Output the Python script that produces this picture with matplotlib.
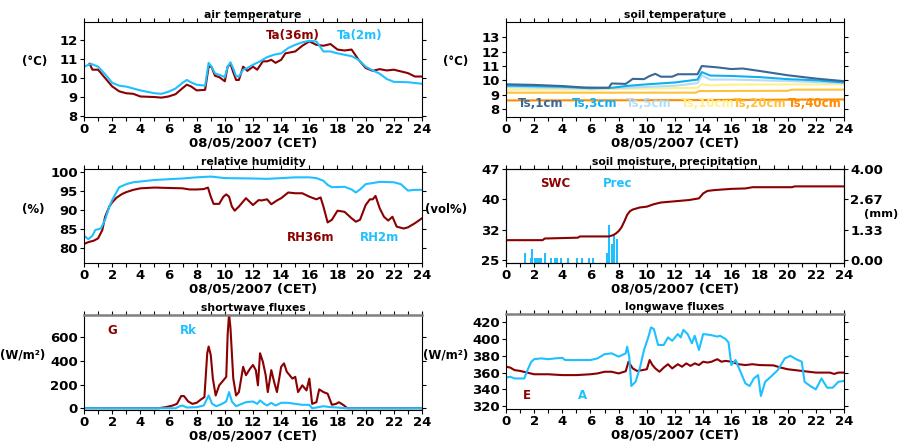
import matplotlib.pyplot as plt

W, H = 900, 447
DARK_RED = "#8b0000"
CYAN = "#1ec0ff"
XLABEL = "08/05/2007 (CET)"

# air temperature (degC)
ta36_t = [0.4, 0.6, 1, 1.5, 2, 2.5, 3, 3.5, 4, 5, 5.5, 6, 6.5, 7, 7.3, 7.6, 8, 8.6, 8.85, 9.05,
          9.3, 9.6, 10, 10.2, 10.4, 10.6, 10.8, 11, 11.3, 11.6, 12, 12.3, 12.7, 13, 13.3, 13.6, 14, 14.3, 15, 15.5,
          16, 16.5, 17, 17.5, 18, 18.5, 19, 19.5, 20, 20.5, 21, 21.5, 22, 23, 23.5, 24]
ta36 = [10.75, 10.44, 10.44, 10.0, 9.56, 9.3, 9.2, 9.17, 9.03, 9.0, 8.97, 9.03, 9.15, 9.47, 9.65, 9.56, 9.35, 9.38, 10.6, 10.6,
        10.12, 10.05, 9.83, 10.6, 10.75, 10.3, 9.9, 9.9, 10.6, 10.38, 10.6, 10.44, 10.88, 10.88, 10.96, 10.8, 10.96, 11.3, 11.4, 11.7,
        11.93, 11.75, 11.7, 11.79, 11.5, 11.45, 11.5, 10.96, 10.53, 10.38, 10.47, 10.4, 10.44, 10.26, 10.08, 10.08]
ta2_t = [0, 0.5, 1, 1.5, 2, 2.5, 3, 4, 5, 5.5, 6, 6.5, 7, 7.3, 7.6, 8, 8.6, 8.85, 9.05,
         9.3, 9.6, 10, 10.2, 10.4, 10.6, 10.8, 11, 11.3, 11.6, 12, 12.5, 13, 13.5, 14,
         14.5, 15, 15.5, 16, 16.5, 17, 17.5, 18, 19, 19.5, 20, 20.5, 21, 21.5, 22, 23, 24]
ta2 = [10.6, 10.75, 10.6, 10.2, 9.75, 9.6, 9.55, 9.35, 9.2, 9.17, 9.28, 9.45, 9.75, 9.9, 9.77, 9.65, 9.6, 10.8, 10.6,
       10.25, 10.17, 10.05, 10.6, 10.83, 10.5, 10.1, 10.08, 10.44, 10.53, 10.7, 10.88, 11.1, 11.23, 11.3,
       11.58, 11.75, 11.88, 11.96, 11.93, 11.4, 11.4, 11.3, 11.15, 10.96, 10.6, 10.4, 10.23, 9.95, 9.8, 9.78, 9.7]

# soil temperature (degC)
ts1_t = [0, 2, 4, 5.5, 7.3, 7.5, 8.5, 9, 9.8, 10.2, 10.6, 11, 11.8, 12.2, 13.6, 13.9, 15, 16, 16.8, 18, 20, 22, 24]
ts1 = [9.72, 9.68, 9.6, 9.5, 9.48, 9.78, 9.75, 10.1, 10.08, 10.3, 10.45, 10.25, 10.25, 10.42, 10.42, 10.99,
       10.9, 10.78, 10.82, 10.65, 10.35, 10.12, 9.94]
ts3_t = [0, 4, 6, 7.5, 8.5, 10, 12, 13.6, 13.9, 14.5, 16, 18, 20, 22, 24]
ts3 = [9.63, 9.55, 9.45, 9.48, 9.6, 9.72, 9.85, 10.05, 10.57, 10.33, 10.3, 10.22, 10.08, 10.0, 9.85]
ts5_t = [0, 6, 8, 12, 13.6, 13.9, 14.5, 16, 20, 24]
ts5 = [9.53, 9.42, 9.46, 9.62, 9.8, 10.34, 10.05, 10.05, 9.95, 9.8]
ts10_t = [0, 6, 8, 13.6, 13.9, 14.5, 16, 24]
ts10 = [9.35, 9.35, 9.4, 9.48, 9.72, 9.65, 9.7, 9.72]
ts20_t = [0, 13.5, 13.7, 20, 20.3, 24]
ts20 = [9.14, 9.14, 9.25, 9.27, 9.35, 9.35]
ts40_t = [0, 12, 24]
ts40 = [8.6, 8.62, 8.67]
ts_names = ["Ts,1cm", "Ts,3cm", "Ts,5cm", "Ts,10cm", "Ts,20cm", "Ts,40cm"]
ts_colors = ["#3a6894", "#12aef0", "#b3ddf8", "#fff08c", "#ffc03c", "#ff8c00"]

# relative humidity (%)
rh36_t = [0, 0.3, 0.7, 1, 1.3, 1.5, 1.8, 2, 2.3, 2.7, 3, 3.5, 4, 5, 6, 7, 7.5, 8, 8.5, 8.8,
          9, 9.2, 9.6, 9.9, 10.1, 10.3, 10.5, 10.7, 11, 11.5, 12, 12.4, 12.6, 13, 13.3, 13.7, 14, 14.5, 15, 15.5,
          16, 16.5, 16.8, 17, 17.3, 17.6, 18, 18.5, 19, 19.3, 19.6, 20, 20.3, 20.5, 20.7, 21, 21.3, 21.6, 21.9, 22.2,
          22.7, 23, 23.5, 24]
rh36 = [81.0, 81.5, 81.9, 82.5, 84.7, 88.2, 90.9, 92.0, 93.2, 94.2, 94.7, 95.3, 95.7, 95.9, 95.8, 95.7, 95.4, 95.4, 95.5, 95.9,
        93.5, 91.6, 91.6, 93.5, 94.1, 93.5, 90.9, 89.8, 90.9, 93.1, 91.3, 92.6, 92.5, 92.8, 91.5, 92.5, 93.1, 94.6, 94.4, 94.4,
        93.5, 92.8, 93.3, 90.9, 86.7, 87.4, 89.8, 89.5, 87.8, 86.9, 87.4, 91.3, 92.8, 92.8, 93.7, 90.4, 88.2, 87.2, 88.2, 85.6,
        85.1, 85.4, 86.5, 87.8]
rh2_t = [0, 0.3, 0.6, 0.8, 1.2, 1.5, 1.8, 2, 2.5, 3, 3.5, 4, 5, 6, 7, 8, 9, 10, 12, 13,
         14, 15, 16, 16.5, 17, 17.3, 17.6, 18.5, 19, 19.3, 19.6, 20, 21, 22, 22.5, 23, 23.5, 24]
rh2 = [83.2, 82.3, 83.2, 84.7, 85.1, 87.4, 90.9, 92.6, 96.0, 96.8, 97.3, 97.5, 97.9, 98.1, 98.3, 98.6, 98.8, 98.4, 98.3, 98.2,
       98.4, 98.6, 98.6, 98.4, 97.7, 96.6, 96.0, 96.1, 95.4, 94.6, 95.4, 96.8, 97.4, 97.3, 96.8, 95.1, 95.3, 95.3]

# soil water content (vol%) and precipitation (mm)
swc_t = [0, 2.6, 2.75, 5.1, 5.25, 7.3, 7.6, 7.8, 8.0, 8.2, 8.4, 8.6, 8.8, 9.0, 9.5, 10, 10.5, 11, 12, 13,
         13.7, 14, 14.3, 14.8, 16, 17, 17.5, 20.3, 20.5, 24]
swc = [29.8, 29.8, 30.2, 30.4, 30.7, 30.7, 31.0, 31.4, 32.0, 32.9, 34.3, 35.9, 36.8, 37.2, 37.7, 37.9, 38.5, 38.9, 39.2, 39.5,
       39.9, 41.1, 41.7, 41.9, 42.2, 42.3, 42.6, 42.6, 42.8, 42.8]
prec_t = [1.35, 1.77, 1.87, 2.03, 2.17, 2.34, 2.46, 2.77, 3.19, 3.48, 3.64, 3.88, 4.37, 5.01, 5.39, 5.91, 6.19,
          7.14, 7.33, 7.52, 7.66, 7.85]
prec = [0.29, 0.07, 0.48, 0.07, 0.07, 0.07, 0.07, 0.29, 0.07, 0.07, 0.07, 0.07, 0.07, 0.07, 0.07, 0.07, 0.07,
        0.29, 1.54, 0.70, 1.10, 0.91]

# shortwave fluxes (W/m2)
g_t = [0, 5.3, 5.8, 6.3, 6.6, 6.9, 7.1, 7.4, 7.7, 8.0, 8.3, 8.55, 8.75, 8.85, 9.0, 9.15, 9.35, 9.6, 9.9, 10.1,
       10.2, 10.3, 10.4, 10.6, 10.8, 11.0, 11.3, 11.5, 11.8, 12.0, 12.2, 12.35, 12.5, 12.7, 12.9, 13.05, 13.3, 13.5, 13.7, 14.0,
       14.2, 14.4, 14.6, 14.8, 15.0, 15.2, 15.5, 15.8, 16.0, 16.2, 16.5, 16.7, 17.0, 17.3, 17.6, 17.9, 18.1, 18.4, 18.7, 19.0, 24]
g = [0, 0, 9, 23, 37, 103, 103, 57, 37, 46, 74, 94, 466, 523, 451, 251, 108, 194, 237, 266,
     623, 800, 680, 251, 108, 137, 351, 280, 337, 366, 323, 194, 466, 394, 280, 137, 323, 223, 137, 351,
     380, 309, 280, 251, 266, 137, 194, 151, 251, 37, 51, 160, 137, 123, 29, 37, 51, 29, 0, 0, 0]
rk_t = [0, 6.5, 6.8, 7.0, 7.3, 8.0, 8.5, 8.85, 9.1, 9.4, 9.8, 10.1, 10.3, 10.5, 10.8, 11.2, 11.5, 12.0, 12.3, 12.5,
        12.8, 13.0, 13.3, 13.6, 14.0, 14.5, 15.0, 15.5, 16.0, 16.2, 16.5, 17.0, 17.5, 18.0, 18.5, 24]
rk = [0, 0, 17, 23, 6, 9, 23, 108, 37, 17, 37, 57, 137, 57, 17, 37, 51, 57, 37, 66,
      37, 23, 46, 23, 46, 46, 37, 29, 29, 0, 6, 17, 9, 6, 0, 0]

# longwave fluxes (W/m2)
e_t = [0, 0.3, 0.6, 1, 1.5, 2, 3, 4, 5, 6, 6.5, 7, 7.5, 8, 8.5, 8.7, 9.0, 9.3, 9.7, 10,
       10.2, 10.4, 10.6, 10.9, 11.2, 11.5, 11.8, 12.2, 12.5, 12.8, 13.1, 13.4, 13.7, 14, 14.3, 14.6, 15, 15.3, 15.6, 16,
       16.5, 17, 17.5, 18, 19, 19.5, 20, 20.5, 21, 21.5, 22, 23, 23.3, 23.6, 24]
e = [367, 366, 363, 362, 360, 358, 358, 357, 357, 358, 359, 361, 361, 359, 361.6, 373, 365, 362, 363, 364,
     375, 369, 365, 361, 366, 370, 365, 370, 367, 371, 368, 371, 369, 373, 372, 373, 376, 373, 374, 373,
     370, 369, 370, 369, 368.6, 366, 364, 363, 362, 361, 360, 360, 358.4, 360, 360]
a_t = [0, 0.3, 0.6, 1.3, 1.5, 1.8, 2, 2.5, 3, 3.5, 4, 4.2, 5, 6, 6.5, 7, 7.5, 8, 8.5, 8.6,
       8.75, 8.9, 9.2, 9.5, 9.8, 10.1, 10.3, 10.5, 10.8, 11.2, 11.5, 11.8, 12.2, 12.4, 12.6, 12.9, 13.2, 13.4, 13.7, 14,
       14.5, 15, 15.2, 15.6, 15.8, 16.0, 16.3, 16.6, 17, 17.3, 17.6, 17.9, 18.1, 18.4, 18.8, 19.3, 19.8, 20.2, 20.6, 21,
       21.2, 21.6, 22, 22.4, 22.8, 23.2, 23.6, 24]
a = [354, 355, 353, 353, 362, 373, 376, 377, 376, 377, 377.6, 375, 375, 375, 377, 382, 383, 379, 383, 391,
     379, 344, 349, 365, 387, 402, 414, 412, 393, 393, 402, 398, 406, 402, 411, 406, 395, 404, 387, 406,
     405, 403, 404, 400, 396, 369, 375, 363, 347, 344, 353, 357, 332, 349, 355, 363, 377, 380, 376, 373,
     349, 344, 340, 353, 342, 342, 349, 350]

plt.rcParams["font.family"] = "DejaVu Sans"
plt.rcParams["font.weight"] = "bold"

fig = plt.figure(figsize=(W / 100, H / 100), dpi=100)


def px_axes(left, top, right, bottom):
    return fig.add_axes([left / W, 1 - bottom / H, (right - left) / W, (bottom - top) / H])


def px_text(x, y, s, size=8.5):
    fig.text(x / W, 1 - y / H, s, ha="left", va="center", fontsize=size, fontweight="bold")


def style(ax, title, ylim, yticks, right=True):
    ax.set_xlim(0, 24)
    ax.set_xticks(range(0, 25, 2))
    ax.set_xticks(range(0, 25), minor=True)
    ax.set_ylim(*ylim)
    ax.set_yticks(yticks)
    ax.tick_params(which="both", direction="out", top=True, right=right, length=3, width=0.8,
                   labelsize=9.5, pad=1.5)
    for sp in ax.spines.values():
        sp.set_linewidth(0.8)
    ax.set_title(title, fontsize=7.8, fontweight="bold", pad=3)
    ax.set_xlabel(XLABEL, fontsize=9.5, fontweight="bold", labelpad=0)


lw = 1.5
lab = dict(fontsize=8.5, fontweight="bold", ha="left", va="center")

# air temperature
ax1 = px_axes(84, 22, 422, 117)
ax1.plot(ta36_t, ta36, color=DARK_RED, lw=lw)
ax1.plot(ta2_t, ta2, color=CYAN, lw=lw)
style(ax1, "air temperature", (7.95, 12.95), [8, 9, 10, 11, 12])
ax1.text(12.9, 12.26, "Ta(36m)", color=DARK_RED, **lab)
ax1.text(17.97, 12.26, "Ta(2m)", color=CYAN, **lab)
px_text(22, 62, "(°C)")

# soil temperature
ax2 = px_axes(506, 22, 844, 117)
ts_all = [(ts1_t, ts1), (ts3_t, ts3), (ts5_t, ts5), (ts10_t, ts10), (ts20_t, ts20), (ts40_t, ts40)]
for (tt, vv), col in reversed(list(zip(ts_all, ts_colors))):
    ax2.plot(tt, vv, color=col, lw=lw)
style(ax2, "soil temperature", (7.45, 14.05), [8, 9, 10, 11, 12, 13])
for name, col, xt in zip(ts_names, ts_colors, [0.85, 4.69, 8.52, 12.43, 16.12, 20.03]):
    ax2.text(xt, 8.4, name, color=col, **lab)
px_text(443, 62, "(°C)")

# relative humidity
ax3 = px_axes(84, 169, 422, 263)
ax3.plot(rh36_t, rh36, color=DARK_RED, lw=lw)
ax3.plot(rh2_t, rh2, color=CYAN, lw=lw)
style(ax3, "relative humidity", (76, 100.8), [80, 85, 90, 95, 100])
ax3.text(14.42, 82.6, "RH36m", color=DARK_RED, **lab)
ax3.text(19.6, 82.6, "RH2m", color=CYAN, **lab)
px_text(22, 210, "(%)")

# soil moisture, precipitation
ax4 = px_axes(506, 169, 844, 263)
ax4r = ax4.twinx()
style(ax4, "soil moisture, precipitation", (24.28, 47), [25, 25 + 22 / 3, 25 + 44 / 3, 47], right=False)
ax4.set_yticklabels(["25", "32", "40", "47"])
ax4r.set_ylim(-0.13, 4)
ax4r.set_yticks([0, 4 / 3, 8 / 3, 4])
ax4r.set_yticklabels(["0.00", "1.33", "2.67", "4.00"])
ax4r.tick_params(direction="out", length=3, width=0.8, labelsize=9.5, pad=1.5)
base = ax4r.get_ylim()[0]
ax4r.bar(prec_t, [p - base for p in prec], bottom=base, width=0.14, color=CYAN, align="center")
ax4.plot(swc_t, swc, color=DARK_RED, lw=lw)
ax4.set_zorder(ax4r.get_zorder() + 1)
ax4.patch.set_visible(False)
ax4.text(2.41, 43.6, "SWC", color=DARK_RED, **lab)
ax4.text(6.89, 43.6, "Prec", color=CYAN, **lab)
px_text(425, 210, "(vol%)")
px_text(864, 214, "(mm)", size=8.2)

# shortwave fluxes
ax5 = px_axes(84, 315, 422, 410)
ax5.plot(g_t, g, color=DARK_RED, lw=lw)
ax5.plot(rk_t, rk, color=CYAN, lw=lw)
style(ax5, "shortwave fluxes", (-15, 790), [0, 200, 400, 600])
ax5.spines["top"].set_color("#808080")
ax5.spines["top"].set_linewidth(1.8)
ax5.text(1.63, 657, "G", color=DARK_RED, **lab)
ax5.text(6.82, 657, "Rk", color=CYAN, **lab)
px_text(0, 355, "(W/m²)")

# longwave fluxes
ax6 = px_axes(506, 314, 844, 409)
ax6.plot(e_t, e, color=DARK_RED, lw=lw)
ax6.plot(a_t, a, color=CYAN, lw=lw)
style(ax6, "longwave fluxes", (316.5, 430), [320, 340, 360, 380, 400, 420])
ax6.spines["top"].set_color("#808080")
ax6.spines["top"].set_linewidth(1.8)
ax6.text(1.2, 333, "E", color=DARK_RED, **lab)
ax6.text(5.1, 333, "A", color=CYAN, **lab)
px_text(423, 355, "(W/m²)")

fig.savefig("out.png", dpi=100)
